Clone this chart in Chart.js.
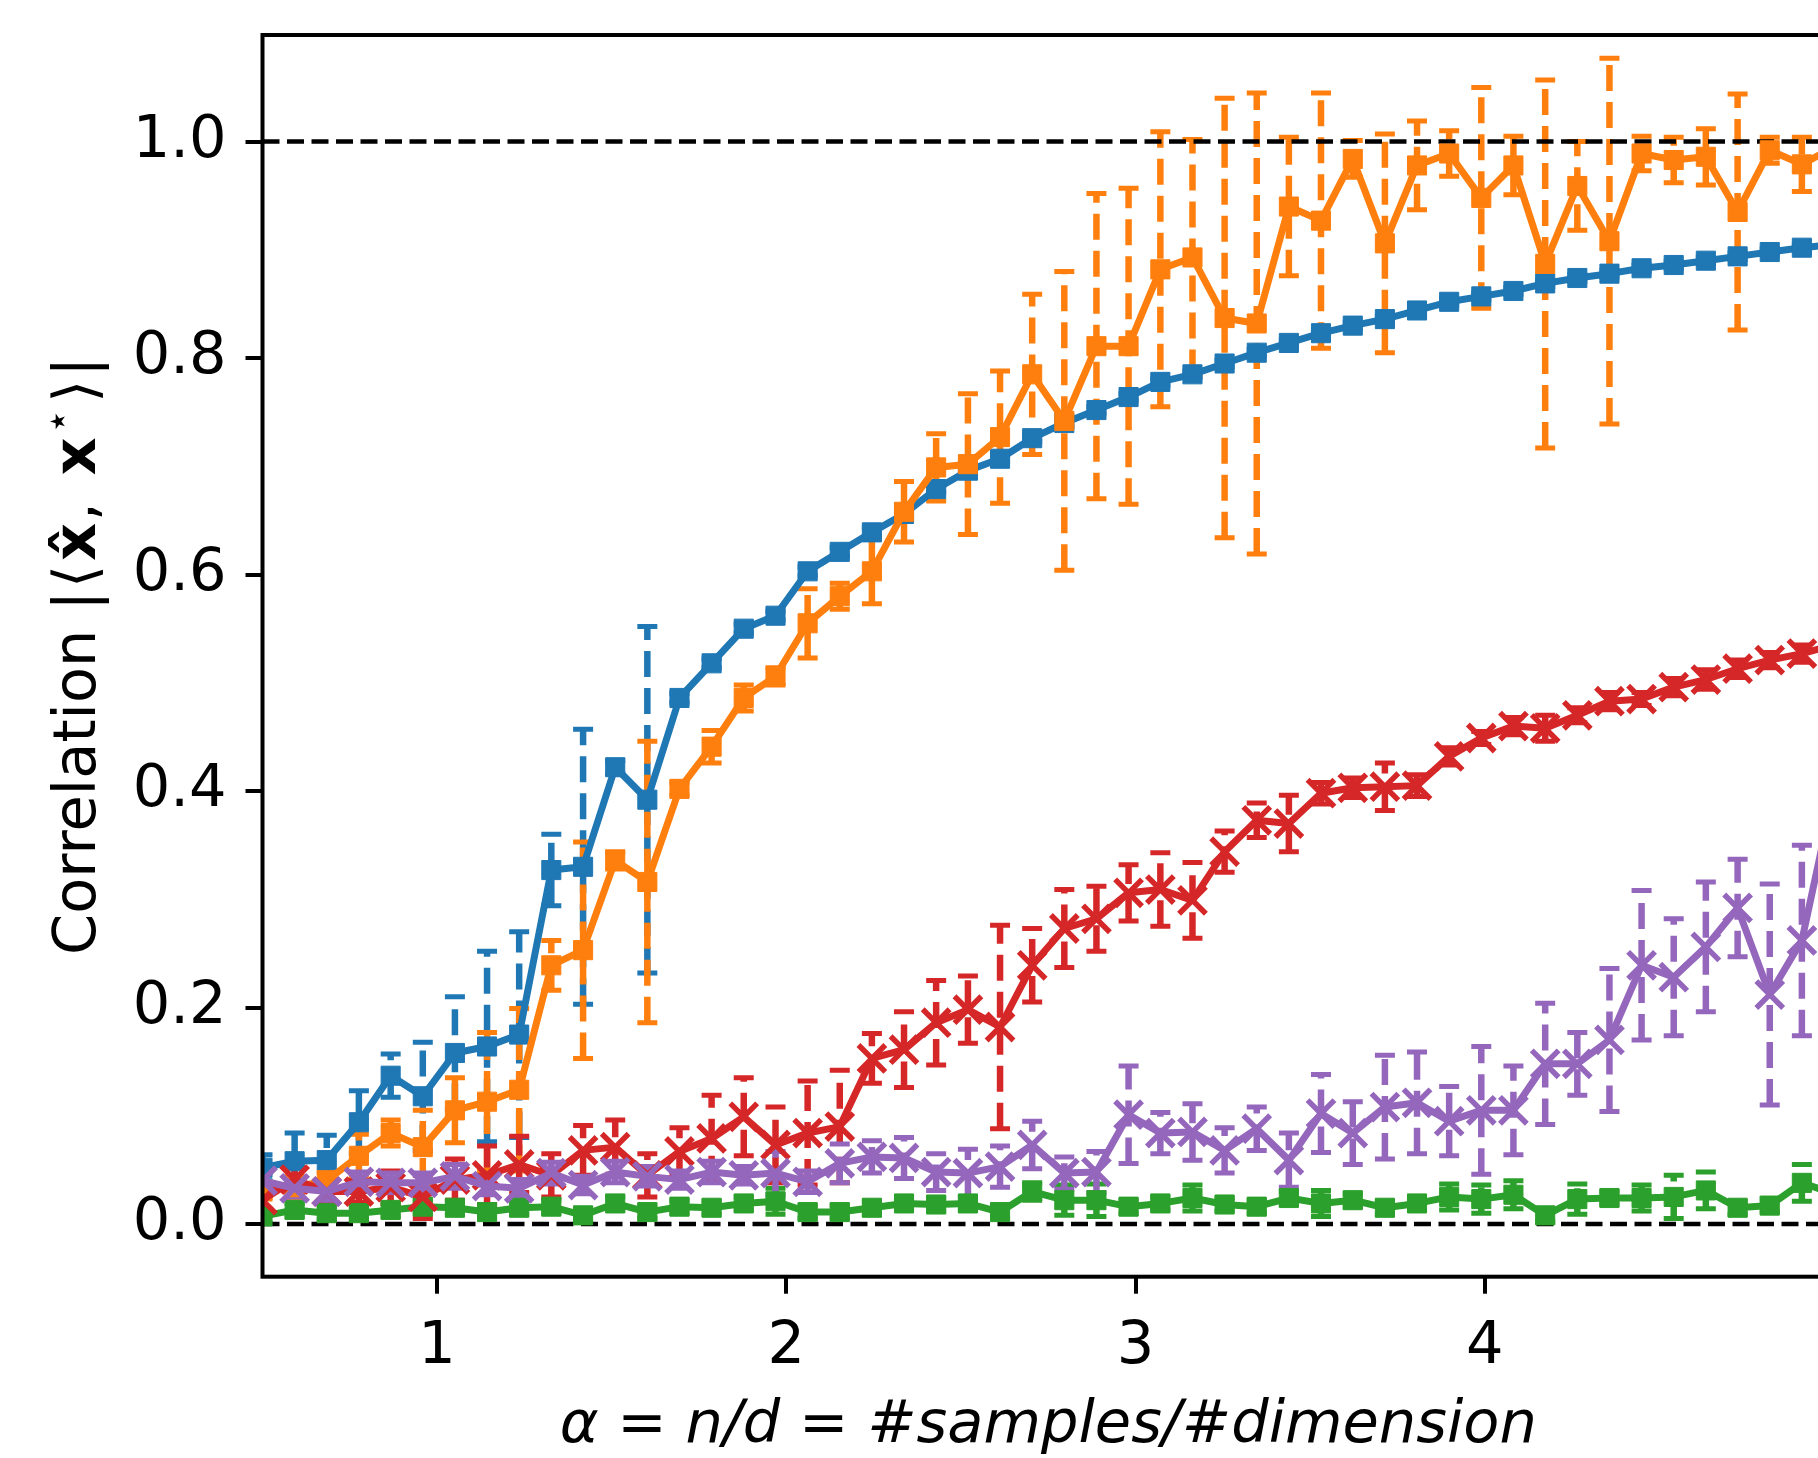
<!DOCTYPE html>
<html>
<head>
<meta charset="utf-8">
<script src="https://cdn.jsdelivr.net/npm/chart.js@4.4.1/dist/chart.umd.min.js"></script>
<style>
  html, body { margin: 0; padding: 0; overflow: hidden; background: #fff; }
  #wrap { width: 1900px; height: 1458px; }
</style>
</head>
<body>
<div id="wrap"><canvas id="corr" width="1900" height="1458"></canvas></div>
<script>
// alpha = n/d sample grid
const alpha = [0.500, 0.592, 0.684, 0.776, 0.867, 0.959, 1.051, 1.143, 1.235, 1.327,
  1.418, 1.510, 1.602, 1.694, 1.786, 1.878, 1.969, 2.061, 2.153, 2.245,
  2.337, 2.429, 2.520, 2.612, 2.704, 2.796, 2.888, 2.980, 3.071, 3.163,
  3.255, 3.347, 3.439, 3.531, 3.622, 3.714, 3.806, 3.898, 3.990, 4.082,
  4.173, 4.265, 4.357, 4.449, 4.541, 4.633, 4.724, 4.816, 4.908, 5.000];

const blueMean = [0.052, 0.058, 0.059, 0.094, 0.137, 0.118, 0.158, 0.164, 0.175, 0.327,
  0.330, 0.422, 0.392, 0.486, 0.518, 0.550, 0.562, 0.603, 0.621, 0.639,
  0.656, 0.679, 0.696, 0.707, 0.726, 0.740, 0.752, 0.764, 0.778, 0.785,
  0.795, 0.805, 0.814, 0.823, 0.830, 0.836, 0.844, 0.852, 0.857, 0.862,
  0.869, 0.874, 0.878, 0.883, 0.886, 0.890, 0.894, 0.898, 0.902, 0.905];
const blueErr = [0.012, 0.026, 0.023, 0.029, 0.020, 0.050, 0.052, 0.088, 0.095, 0.033,
  0.127, 0.006, 0.160, 0.004, 0.004, 0.004, 0.004, 0.004, 0.004, 0.004,
  0.004, 0.003, 0.003, 0.003, 0.003, 0.003, 0.003, 0.003, 0.003, 0.003,
  0.003, 0.003, 0.003, 0.003, 0.003, 0.003, 0.003, 0.003, 0.003, 0.003,
  0.003, 0.003, 0.003, 0.003, 0.003, 0.003, 0.003, 0.003, 0.003, 0.003];

const orangeMean = [0.031, 0.034, 0.040, 0.063, 0.084, 0.071, 0.105, 0.113, 0.124, 0.239,
  0.253, 0.336, 0.316, 0.402, 0.441, 0.486, 0.506, 0.555, 0.580, 0.603,
  0.658, 0.699, 0.702, 0.727, 0.785, 0.742, 0.811, 0.811, 0.882, 0.893,
  0.837, 0.832, 0.940, 0.927, 0.984, 0.906, 0.978, 0.989, 0.948, 0.978,
  0.887, 0.959, 0.908, 0.989, 0.983, 0.986, 0.935, 0.992, 0.979, 0.995];
const orangeErr = [0.008, 0.010, 0.008, 0.020, 0.012, 0.034, 0.030, 0.064, 0.075, 0.023,
  0.100, 0.008, 0.130, 0.006, 0.015, 0.012, 0.008, 0.032, 0.012, 0.030,
  0.028, 0.031, 0.065, 0.061, 0.074, 0.138, 0.141, 0.146, 0.127, 0.109,
  0.203, 0.213, 0.064, 0.118, 0.017, 0.101, 0.041, 0.021, 0.102, 0.027,
  0.170, 0.041, 0.169, 0.016, 0.021, 0.026, 0.109, 0.012, 0.025, 0.020];

const greenMean = [0.007, 0.013, 0.010, 0.010, 0.013, 0.016, 0.015, 0.011, 0.015, 0.016,
  0.008, 0.019, 0.011, 0.016, 0.015, 0.019, 0.021, 0.011, 0.011, 0.015,
  0.019, 0.018, 0.019, 0.011, 0.030, 0.022, 0.022, 0.016, 0.019, 0.024,
  0.018, 0.016, 0.024, 0.019, 0.022, 0.015, 0.019, 0.025, 0.023, 0.027,
  0.008, 0.023, 0.024, 0.024, 0.025, 0.031, 0.015, 0.017, 0.038, 0.028];
const greenErr = [0.006, 0.006, 0.006, 0.006, 0.006, 0.006, 0.006, 0.006, 0.006, 0.006,
  0.006, 0.006, 0.006, 0.006, 0.006, 0.006, 0.012, 0.006, 0.006, 0.006,
  0.006, 0.006, 0.006, 0.006, 0.008, 0.014, 0.015, 0.006, 0.006, 0.012,
  0.006, 0.006, 0.006, 0.012, 0.006, 0.006, 0.006, 0.012, 0.013, 0.013,
  0.006, 0.014, 0.006, 0.012, 0.020, 0.017, 0.006, 0.006, 0.017, 0.010];

const redMean = [0.022, 0.041, 0.030, 0.030, 0.034, 0.025, 0.041, 0.045, 0.055, 0.045,
  0.068, 0.071, 0.045, 0.067, 0.079, 0.099, 0.073, 0.084, 0.090, 0.153,
  0.161, 0.186, 0.198, 0.182, 0.239, 0.273, 0.282, 0.306, 0.309, 0.299,
  0.344, 0.373, 0.370, 0.398, 0.403, 0.404, 0.405, 0.432, 0.449, 0.460,
  0.458, 0.470, 0.483, 0.485, 0.496, 0.503, 0.513, 0.521, 0.527, 0.535];
const redErr = [0.010, 0.012, 0.010, 0.010, 0.015, 0.020, 0.019, 0.027, 0.026, 0.020,
  0.023, 0.025, 0.020, 0.022, 0.040, 0.036, 0.035, 0.048, 0.052, 0.023,
  0.035, 0.039, 0.031, 0.094, 0.034, 0.036, 0.030, 0.026, 0.034, 0.035,
  0.019, 0.016, 0.026, 0.010, 0.009, 0.022, 0.010, 0.008, 0.006, 0.008,
  0.012, 0.007, 0.008, 0.006, 0.008, 0.009, 0.008, 0.007, 0.008, 0.008];

const purpleMean = [0.040, 0.033, 0.030, 0.039, 0.038, 0.038, 0.044, 0.035, 0.033, 0.047,
  0.036, 0.048, 0.044, 0.041, 0.048, 0.045, 0.047, 0.039, 0.056, 0.062,
  0.061, 0.048, 0.047, 0.053, 0.073, 0.047, 0.048, 0.101, 0.084, 0.085,
  0.068, 0.088, 0.059, 0.102, 0.084, 0.108, 0.112, 0.095, 0.105, 0.105,
  0.148, 0.148, 0.170, 0.239, 0.228, 0.256, 0.292, 0.212, 0.262, 0.400];
const purpleErr = [0.008, 0.008, 0.008, 0.009, 0.009, 0.009, 0.011, 0.008, 0.008, 0.010,
  0.008, 0.010, 0.009, 0.008, 0.010, 0.008, 0.020, 0.010, 0.018, 0.015,
  0.019, 0.017, 0.022, 0.019, 0.022, 0.015, 0.019, 0.045, 0.019, 0.026,
  0.021, 0.020, 0.025, 0.036, 0.029, 0.048, 0.047, 0.032, 0.059, 0.041,
  0.056, 0.029, 0.066, 0.069, 0.054, 0.060, 0.045, 0.102, 0.088, 0.080];

const refLevels = [0, 1];
const xTickVals = [1, 2, 3, 4, 5];
const yTickVals = [0, 0.2, 0.4, 0.6, 0.8, 1.0];

const FONT = 'DejaVu Sans';

function series(vals, errs, color, marker, order) {
  const isRect = marker === 'rect';
  return {
    data: alpha.map((a, i) => ({x: a, y: vals[i]})),
    errors: errs,
    borderColor: color,
    backgroundColor: color,
    borderWidth: 7,
    borderJoinStyle: 'round',
    pointStyle: marker,
    pointRadius: isRect ? 13.5 : 19,
    pointBorderWidth: isRect ? 1 : 5.5,
    pointBackgroundColor: color,
    pointBorderColor: color,
    tension: 0,
    clip: 0,
    order: order
  };
}

function refLine(level) {
  return {
    data: [{x: 0.5, y: level}, {x: 5.0, y: level}],
    borderColor: '#000',
    borderWidth: 4.5,
    borderDash: [17, 7.5],
    pointRadius: 0,
    clip: 0,
    order: 10
  };
}

// error bars sit under every data line, like matplotlib's default zorder
const errorBars = {
  id: 'errorBars',
  beforeDatasetsDraw(chart) {
    const {ctx, chartArea: a, scales: {x, y}} = chart;
    ctx.save();
    ctx.beginPath();
    ctx.rect(a.left, a.top, a.right - a.left, a.bottom - a.top);
    ctx.clip();
    chart.data.datasets.forEach(ds => {
      if (!ds.errors) return;
      ctx.strokeStyle = ds.borderColor;
      ds.data.forEach((p, i) => {
        const e = ds.errors[i];
        const px = x.getPixelForValue(p.x);
        const lo = y.getPixelForValue(p.y - e);
        const hi = y.getPixelForValue(p.y + e);
        ctx.setLineDash([26, 11]);
        ctx.lineWidth = 6.5;
        ctx.lineCap = 'butt';
        ctx.beginPath();
        ctx.moveTo(px, lo);
        ctx.lineTo(px, hi);
        ctx.stroke();
        ctx.setLineDash([]);
        ctx.lineWidth = 5;
        ctx.beginPath();
        ctx.moveTo(px - 10, lo); ctx.lineTo(px + 10, lo);
        ctx.moveTo(px - 10, hi); ctx.lineTo(px + 10, hi);
        ctx.stroke();
      });
    });
    ctx.restore();
  }
};

// box around the axes + the mixed-font y label
const frameAndLabel = {
  id: 'frameAndLabel',
  afterDatasetsDraw(chart) {
    const {ctx, chartArea: a} = chart;
    ctx.save();
    ctx.strokeStyle = '#000';
    ctx.lineWidth = 4;
    ctx.setLineDash([]);
    ctx.strokeRect(a.left, a.top, a.right - a.left, a.bottom - a.top);
    ctx.restore();
  },
  afterDraw(chart) {
    const {ctx, chartArea: a} = chart;
    const normal = '59px "' + FONT + '"';
    const bold = 'bold 59px "' + FONT + '"';
    // gap = extra space after the piece (mathtext spacing)
    const parts = [
      {t: 'Correlation ', f: normal, gap: 0},
      {t: '|', f: normal, gap: 3},
      {t: '\u27E8', f: normal, gap: 4},
      {t: 'x\u0302', f: bold, gap: 2},
      {t: ', ', f: normal, gap: 8},
      {t: 'x', f: bold, gap: 3},
      {t: '\u22C6', f: '41px "' + FONT + '"', rise: 24, gap: 6},
      {t: '\u27E9', f: normal, gap: 3},
      {t: '|', f: normal, gap: 0}
    ];
    ctx.save();
    ctx.fillStyle = '#000';
    ctx.textBaseline = 'alphabetic';
    ctx.textAlign = 'left';
    let total = 0;
    parts.forEach(p => { ctx.font = p.f; p.w = ctx.measureText(p.t).width; total += p.w + p.gap; });
    ctx.translate(95, (a.top + a.bottom) / 2);
    ctx.rotate(-Math.PI / 2);
    let cx = -total / 2;
    parts.forEach(p => {
      ctx.font = p.f;
      ctx.fillText(p.t, cx, -(p.rise || 0));
      cx += p.w + p.gap;
    });
    ctx.restore();
  }
};

const cfg = {
  type: 'line',
  data: {
    datasets: [
      series(blueMean, blueErr, '#1f77b4', 'rect', 5),
      series(orangeMean, orangeErr, '#ff7f0e', 'rect', 4),
      series(greenMean, greenErr, '#2ca02c', 'rect', 3),
      series(redMean, redErr, '#d62728', 'crossRot', 2),
      series(purpleMean, purpleErr, '#9467bd', 'crossRot', 1),
      ...refLevels.map(refLine)
    ]
  },
  options: {
    responsive: false,
    devicePixelRatio: 1,
    animation: false,
    layout: {padding: {left: 0, top: 35, right: 66, bottom: 0}},
    plugins: {legend: {display: false}, tooltip: {enabled: false}},
    scales: {
      x: {
        type: 'linear',
        min: 0.5,
        max: 5.0,
        afterBuildTicks: s => { s.ticks = xTickVals.map(v => ({value: v})); },
        afterFit: s => { s.height = 181.3; s.paddingLeft = 0; s.paddingRight = 0; },
        border: {display: false},
        grid: {drawOnChartArea: false, drawTicks: true, tickLength: 17, lineWidth: 4, color: '#000'},
        ticks: {
          color: '#000',
          padding: 19,
          maxRotation: 0,
          font: {family: FONT, size: 59},
          callback: v => String(v)
        },
        title: {
          display: true,
          text: '\u03B1 = n/d = #samples/#dimension',
          color: '#000',
          font: {family: FONT, size: 59, style: 'italic', lineHeight: 1.0},
          padding: {top: 0, bottom: 2}
        }
      },
      y: {
        type: 'linear',
        min: -0.0487,
        max: 1.0985,
        afterBuildTicks: s => { s.ticks = yTickVals.map(v => ({value: v})); },
        afterFit: s => { s.width = 262.5; s.paddingTop = 0; s.paddingBottom = 0; },
        border: {display: false},
        grid: {drawOnChartArea: false, drawTicks: true, tickLength: 17, lineWidth: 4, color: '#000'},
        ticks: {
          color: '#000',
          padding: 19,
          font: {family: FONT, size: 59},
          callback: v => v.toFixed(1)
        }
      }
    }
  },
  plugins: [errorBars, frameAndLabel]
};

new Chart(document.getElementById('corr'), cfg);
</script>
</body>
</html>
